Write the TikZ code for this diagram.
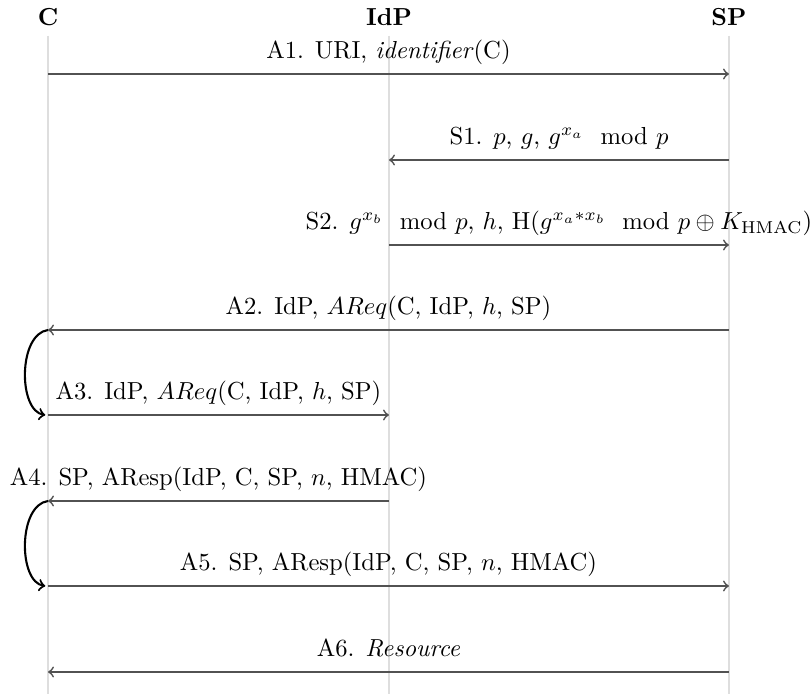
\documentclass[tikz,border=0pt]{standalone}
\usepackage{amsmath}
\begin{document}
\begin{tikzpicture}[x=0.4062pt,y=-0.4062pt,
  lifeline/.style={draw=black!13, line width=0.5pt},
  actor/.style={font=\bfseries, inner sep=0pt, anchor=base},
  msg/.style={draw=black!68, line width=0.7pt, ->},
  lbl/.style={anchor=base, yshift=6.3pt, inner sep=0pt, text=black},
  loopback/.style={draw=black, line width=0.85pt, ->}]
\useasboundingbox (0,0) rectangle (812,694);

% participants
\node[actor] (C) at (48,26) {C};
\node[actor] (IdP) at (389,26) {IdP};
\node[actor] (SP) at (729,26) {SP};

% lifeline end points
\coordinate (Ctop) at (48,36);   \coordinate (Cbot) at (48,694);
\coordinate (Itop) at (389,36);  \coordinate (Ibot) at (389,694);
\coordinate (Stop) at (729,36);  \coordinate (Sbot) at (729,694);
\draw[lifeline] (Ctop) -- (Cbot);
\draw[lifeline] (Itop) -- (Ibot);
\draw[lifeline] (Stop) -- (Sbot);

% message rows
\foreach \i/\y in {1/74,2/160,3/245,4/330,5/415,6/501,7/586,8/672}{
  \coordinate (C\i) at (48,\y);
  \coordinate (I\i) at (389,\y);
  \coordinate (S\i) at (729,\y);
}

\draw[msg] (C1) -- (S1) node[midway, lbl] {A1. URI, \textit{identifier}(C)};
\draw[msg] (S2) -- (I2) node[midway, lbl] {S1. $p$, $g$, $g^{x_a} \mod p$};
\draw[msg] (I3) -- (S3) node[midway, lbl]
  {S2. $g^{x_b} \mod p$, $h$, H($g^{x_a * x_b} \mod p \oplus K_{\mathrm{HMAC}}$)};
\draw[msg] (S4) -- (C4) node[midway, lbl] {A2. IdP, $AReq$(C, IdP, $h$, SP)};
\draw[msg] (C5) -- (I5) node[midway, lbl] {A3. IdP, $AReq$(C, IdP, $h$, SP)};
\draw[msg] (I6) -- (C6) node[midway, lbl] {A4. SP, AResp(IdP, C, SP, $n$, HMAC)};
\draw[msg] (C7) -- (S7) node[midway, lbl] {A5. SP, AResp(IdP, C, SP, $n$, HMAC)};
\draw[msg] (S8) -- (C8) node[midway, lbl] {A6. \textit{Resource}};

% forwarding loops at the client
\draw[loopback] (C4) .. controls (18,334) and (18,411) .. ([xshift=-1.1pt]C5);
\draw[loopback] (C6) .. controls (18,505) and (18,582) .. ([xshift=-1.1pt]C7);
\end{tikzpicture}
\end{document}
